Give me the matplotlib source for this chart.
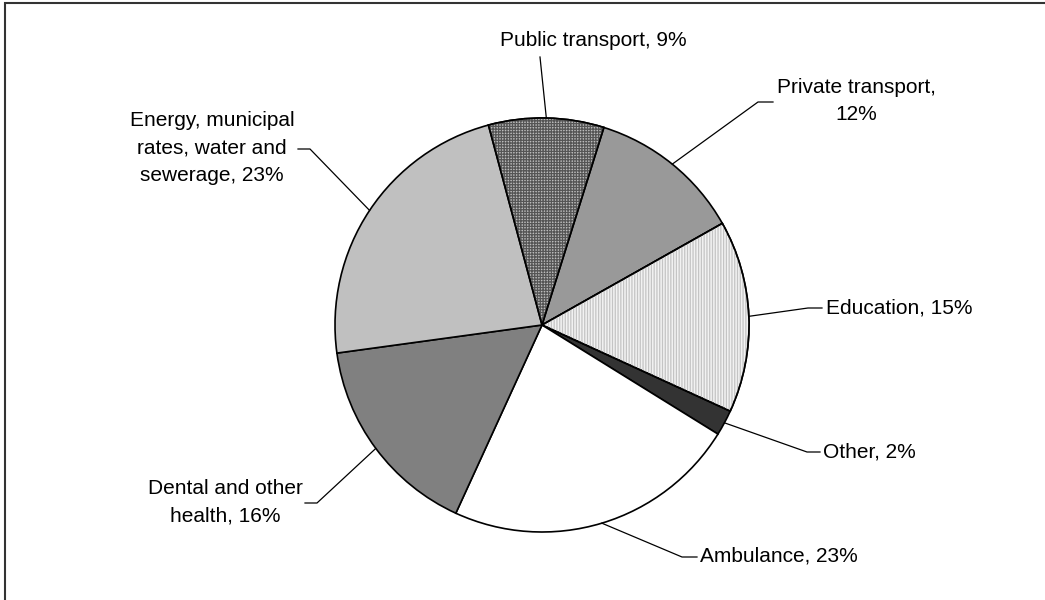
import numpy as np
import matplotlib
matplotlib.use("Agg")
import matplotlib.pyplot as plt
from matplotlib.patches import Wedge, Rectangle

# Data (clockwise from the public transport slice)
labels = ["Public transport", "Private transport", "Education", "Other",
          "Ambulance", "Dental and other health",
          "Energy, municipal rates, water and sewerage"]
shares = [9, 12, 15, 2, 23, 16, 23]

label_texts = ["Public transport, 9%", "Private transport,\n12%", "Education, 15%",
               "Other, 2%", "Ambulance, 23%", "Dental and other\nhealth, 16%",
               "Energy, municipal\nrates, water and\nsewerage, 23%"]

colors = ["#bcbcbc", "#999999", "#f2f2f2", "#333333", "#ffffff", "#808080", "#c0c0c0"]
hatches = ["++++++", None, "||||||", None, None, None, None]
hatch_colors = ["#555555", None, "#c4c4c4", None, None, None, None]

W, H = 1045, 600
CX, CY, R = 542, 325, 207

# label layout in pixel coords (top-left origin): text pos, ha, elbow point, end point
label_layout = [
    ((593, 40), "center", None, (540, 57)),
    ((856, 101), "center", (758, 102), (773, 102)),
    ((826, 308), "left", (808, 308), (822, 308)),
    ((823, 452), "left", (807, 452), (820, 452)),
    ((700, 556), "left", (682, 557), (697, 557)),
    ((225, 502), "center", (317, 503), (305, 503)),
    ((212, 148), "center", (310, 149), (298, 149)),
]

plt.rcParams["font.family"] = ["Liberation Sans", "DejaVu Sans"]
plt.rcParams["hatch.linewidth"] = 0.9

fig = plt.figure(figsize=(W / 100, H / 100), dpi=100)
ax = fig.add_axes([0, 0, 1, 1])


def fy(y):
    return H - y


wedges, _ = ax.pie(shares, colors=colors, startangle=105, counterclock=False,
                   center=(CX, fy(CY)), radius=R,
                   wedgeprops=dict(edgecolor="black", linewidth=1.2))

# overlay the patterned fills
for w, h, hc in zip(wedges, hatches, hatch_colors):
    if h is None:
        continue
    ov = Wedge(w.center, w.r, w.theta1, w.theta2, facecolor="none",
               edgecolor=hc, linewidth=0, hatch=h, zorder=w.get_zorder() + 0.1)
    ax.add_patch(ov)
    outline = Wedge(w.center, w.r, w.theta1, w.theta2, facecolor="none",
                    edgecolor="black", linewidth=1.2, zorder=w.get_zorder() + 0.2)
    ax.add_patch(outline)

# labels with leader lines from slice mid-angle
for w, txt, (tpos, ha, elbow, end) in zip(wedges, label_texts, label_layout):
    mid = np.deg2rad((w.theta1 + w.theta2) / 2)
    px = w.center[0] + w.r * np.cos(mid)
    py = w.center[1] + w.r * np.sin(mid)
    xs, ys = [px], [py]
    if elbow is not None:
        xs.append(elbow[0]); ys.append(fy(elbow[1]))
    xs.append(end[0]); ys.append(fy(end[1]))
    ax.plot(xs, ys, color="black", linewidth=0.9, zorder=5)
    ax.text(tpos[0], fy(tpos[1]), txt, ha=ha, va="center", fontsize=15,
            linespacing=1.55, color="black")

ax.set_xlim(0, W)
ax.set_ylim(0, H)
ax.set_aspect("equal", adjustable="box")
ax.axis("off")

# chart-area border (left and top edges visible)
fig.patches.append(Rectangle((5 / W, -0.1), 1.2, (H - 3) / H + 0.1,
                             transform=fig.transFigure, fill=False,
                             edgecolor="#333333", linewidth=1.5))

fig.savefig("out.png", dpi=100)
